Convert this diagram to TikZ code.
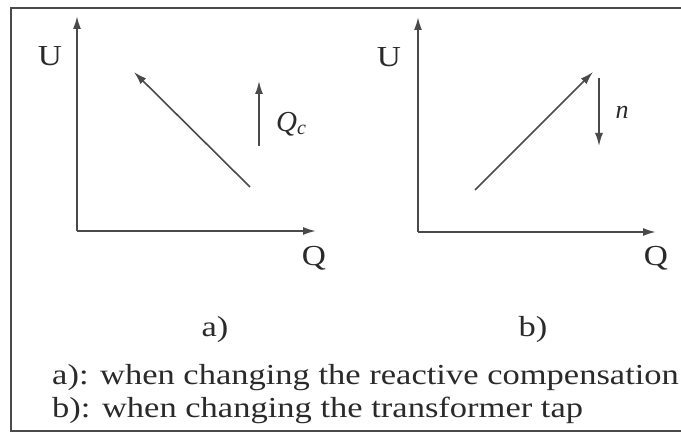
\documentclass[tikz,border=0pt]{standalone}
\usepackage{fontspec}
\setmainfont{Liberation Serif}
\usetikzlibrary{arrows.meta}
\definecolor{ln}{HTML}{4A4A4A}
\definecolor{tx}{HTML}{2A2A2A}
\begin{document}
\begin{tikzpicture}[x=1pt,y=-1pt,
  axisline/.style={draw=ln,line width=1.8pt,-{Latex[length=13pt,width=8pt]}},
  arr/.style={draw=ln,line width=1.6pt,-{Latex[length=13pt,width=8pt]}},
  frameline/.style={draw=ln,line width=2pt},
  lbl/.style={text=tx,inner sep=0pt,font=\fontsize{29}{33}\selectfont},
  captext/.style={text=tx,inner sep=0pt,anchor=base west,font=\fontsize{29}{33}\selectfont}]
\useasboundingbox (0,0) rectangle (681,435);
\fill[white] (0,0) rectangle (681,435);
% frame
\coordinate (ftr) at (700,8);
\coordinate (ftl) at (11,8);
\coordinate (fbl) at (11,431);
\coordinate (fbr) at (700,431);
\draw[frameline] (ftr) -- (ftl) -- (fbl) -- (fbr);
% panel a
\coordinate (oa) at (77,231);
\coordinate (ya) at (77,16);
\coordinate (xa) at (316,231);
\draw[axisline] (oa) -- (ya);
\draw[axisline] (oa) -- (xa);
\node[lbl] (Ua) at (50,56) {\scalebox{1.15}[1]{U}};
\node[lbl] (Qa) at (314,258) {\scalebox{1.15}[1]{Q}};
\coordinate (da1) at (250,187);
\coordinate (da2) at (134,72);
\draw[arr] (da1) -- (da2);
\coordinate (qc1) at (259,146);
\coordinate (qc2) at (259,81);
\draw[arr] (qc1) -- (qc2);
\node[lbl] (Qc) at (291,124) {\itshape Q\raisebox{-0.25ex}{\fontsize{20}{22}\selectfont c}};
% panel b
\coordinate (ob) at (418,232);
\coordinate (yb) at (418,17);
\coordinate (xb) at (656,232);
\draw[axisline] (ob) -- (yb);
\draw[axisline] (ob) -- (xb);
\node[lbl] (Ub) at (389,57) {\scalebox{1.15}[1]{U}};
\node[lbl] (Qb) at (656,258) {\scalebox{1.15}[1]{Q}};
\coordinate (db1) at (475,190);
\coordinate (db2) at (593,72);
\draw[arr] (db1) -- (db2);
\coordinate (n1) at (599,78);
\coordinate (n2) at (599,146);
\draw[arr] (n1) -- (n2);
\node[lbl,font=\fontsize{26}{28}\selectfont\itshape] (nl) at (622,112) {n};
% captions
\node[lbl,anchor=base] (ca) at (215,337) {\scalebox{1.19}[1]{a)}};
\node[lbl,anchor=base] (cb) at (533,337) {\scalebox{1.19}[1]{b)}};
\node[captext] (l1) at (52,385) {\scalebox{1.19}[1]{a): when changing the reactive compensation}};
\node[captext] (l2) at (52,418) {\scalebox{1.19}[1]{b): when changing the transformer tap}};
\end{tikzpicture}
\end{document}
